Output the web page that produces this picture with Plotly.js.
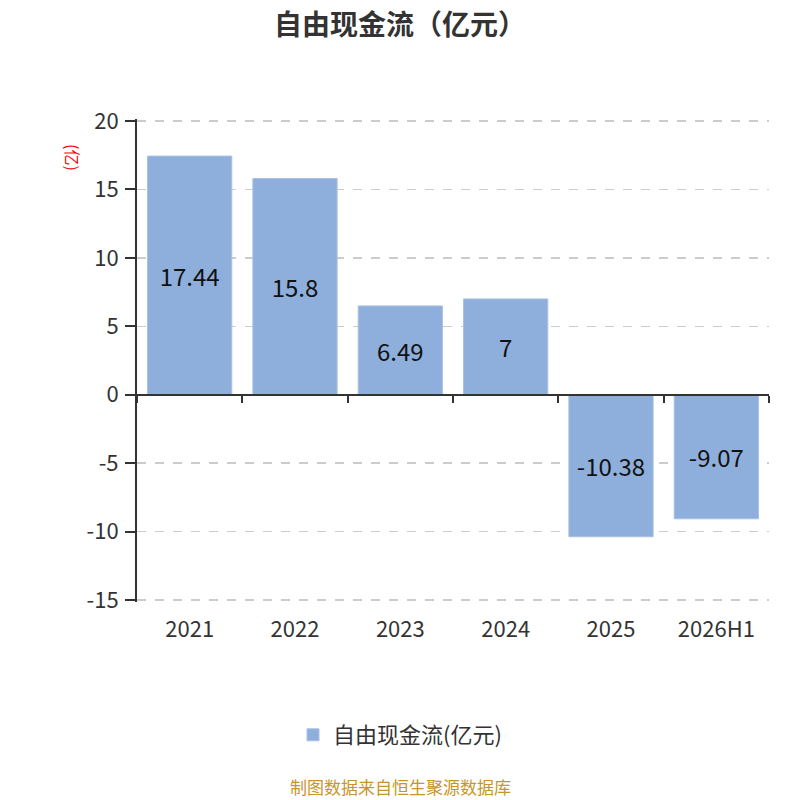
<!DOCTYPE html>
<html>
<head>
<meta charset="utf-8">
<script src="https://cdn.plot.ly/plotly-3.0.1.min.js"></script>
<style>
  html, body { margin: 0; padding: 0; background: #fff; }
  #chart { width: 800px; height: 800px; }
</style>
</head>
<body>
<div id="chart"></div>
<script>
var years = ['2021', '2022', '2023', '2024', '2025', '2026H1'];
var freeCashFlow = [17.44, 15.8, 6.49, 7, -10.38, -9.07];
var yTickVals = [-15, -10, -5, 0, 5, 10, 15, 20];
var yTickText = ['-15', '-10', '-5', '0', '5', '10', '15', '20'];

var yMin = -15, yMax = 20;
// small pad so the grid lines at -15 and 20 are not dropped at the edges
var pad = 0.15;
var font = '"Noto Sans CJK SC", "Noto Sans", sans-serif';

var bars = {
    x: years,
    y: freeCashFlow,
    type: 'bar',
    name: '自由现金流(亿元)',
    marker: { color: '#8eaedb', line: { color: '#a9c1e4', width: 1 } },
    text: freeCashFlow.map(String),
    textposition: 'inside',
    insidetextanchor: 'middle',
    constraintext: 'none',
    textfont: { size: 24, color: '#111', family: font },
    hoverinfo: 'x+y'
};

// invisible copy on the second x axis so its ticks sit on the zero line
var ghost = {
    x: years,
    y: freeCashFlow,
    type: 'bar',
    xaxis: 'x2',
    opacity: 0,
    showlegend: false,
    hoverinfo: 'skip'
};

var layout = {
    width: 800,
    height: 800,
    margin: { l: 137, r: 31, t: 119, b: 198 },
    paper_bgcolor: '#fff',
    plot_bgcolor: '#fff',
    font: { family: font, color: '#333' },
    bargap: 0.2,
    title: {
        text: '<b>自由现金流（亿元）</b>',
        font: { size: 28, color: '#333', family: font },
        x: 0.5,
        xanchor: 'center',
        y: 1 - 25 / 800,
        yanchor: 'middle'
    },
    xaxis: {
        type: 'category',
        categoryorder: 'array',
        categoryarray: years,
        range: [-0.5, years.length - 0.5],
        showline: false,
        showgrid: false,
        zeroline: false,
        ticks: '',
        ticklabelstandoff: 12,
        tickfont: { size: 22, color: '#333' },
        fixedrange: true
    },
    xaxis2: {
        type: 'category',
        categoryorder: 'array',
        categoryarray: years,
        range: [-0.5, years.length - 0.5],
        overlaying: 'x',
        anchor: 'free',
        position: (0 - yMin + pad) / (yMax - yMin + 2 * pad),
        showline: true,
        linecolor: '#333',
        linewidth: 2,
        ticks: 'outside',
        tickson: 'boundaries',
        ticklen: 7,
        tickwidth: 2,
        tickcolor: '#333',
        showticklabels: false,
        showgrid: false,
        zeroline: false,
        fixedrange: true
    },
    yaxis: {
        range: [yMin - pad, yMax + pad],
        tickvals: yTickVals,
        ticktext: yTickText,
        showline: true,
        linecolor: '#333',
        linewidth: 2,
        ticks: 'outside',
        ticklen: 10,
        tickwidth: 2,
        tickcolor: '#333',
        ticklabelstandoff: 2,
        tickfont: { size: 22, color: '#333' },
        showgrid: true,
        gridcolor: '#cccccc',
        gridwidth: 1.5,
        griddash: 'dash',
        zeroline: false,
        fixedrange: true
    },
    showlegend: true,
    legend: {
        orientation: 'h',
        xref: 'container',
        yref: 'container',
        x: 0.5,
        xanchor: 'center',
        y: 1 - 735 / 800,
        yanchor: 'middle',
        font: { size: 22, color: '#333' }
    },
    annotations: [
        {
            text: '(亿)',
            xref: 'paper',
            yref: 'paper',
            x: (73 - 137) / 632,
            y: (602 - 157) / 483,
            xanchor: 'center',
            yanchor: 'middle',
            showarrow: false,
            textangle: 90,
            font: { size: 16, color: '#ff0000' }
        },
        {
            text: '制图数据来自恒生聚源数据库',
            xref: 'paper',
            yref: 'paper',
            x: (400 - 137) / 632,
            y: (602 - 786) / 483,
            xanchor: 'center',
            yanchor: 'middle',
            showarrow: false,
            font: { size: 17, color: '#c8952a' }
        }
    ]
};

Plotly.newPlot('chart', [bars, ghost], layout, { displayModeBar: false, staticPlot: true });
</script>
</body>
</html>
